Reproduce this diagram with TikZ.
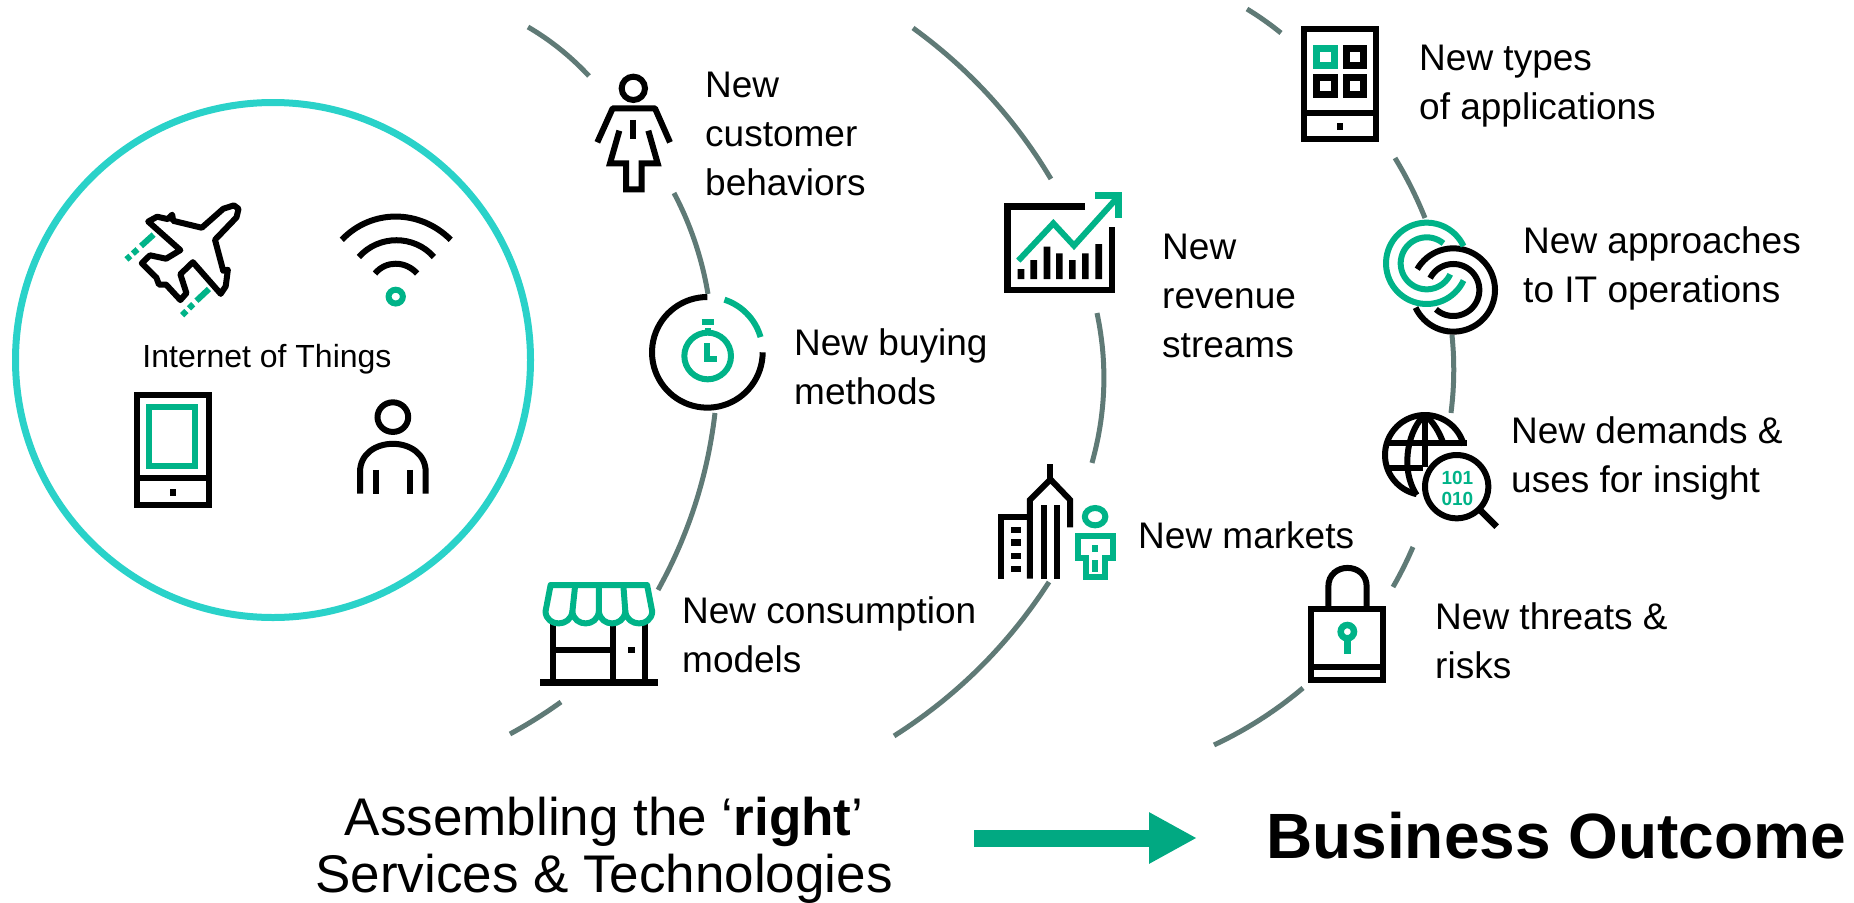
\documentclass[tikz,border=0pt]{standalone}
\usepackage{fontspec}
\setmainfont{Liberation Sans}
\usetikzlibrary{arrows.meta}
\definecolor{igreen}{HTML}{00B388}
\definecolor{agreen}{HTML}{01A982}
\definecolor{turq}{HTML}{2AD2C9}
\definecolor{slate}{HTML}{5F7A76}
\newcommand\zarc[6]{\draw[#1] plot[domain=#5:#6,samples=60] ({#2+#4*cos(\x)},{#3-#4*sin(\x)});}
\newcommand\ringseg[6]{\draw[ring] plot[domain=0:1,samples=30] ({(1-\x)*(1-\x)*#1+2*\x*(1-\x)*#3+\x*\x*#5},{(1-\x)*(1-\x)*#2+2*\x*(1-\x)*#4+\x*\x*#6});}
\tikzset{
  zoneA/.style={shift={(0,90)},x=0.35714pt,y=-0.34435pt},
  zoneB/.style={shift={(520,0)},x=0.33333pt,y=-0.33333pt},
  zoneC/.style={shift={(500,420)},x=0.39541pt,y=-0.33333pt},
  zoneD/.style={shift={(1240,0)},x=0.33333pt,y=-0.33333pt},
  zoneE/.style={shift={(1240,380)},x=0.33333pt,y=-0.33333pt},
  zoneF/.style={shift={(980,170)},x=0.33333pt,y=-0.33333pt},
  ring/.style={draw=slate,line width=5pt},
  ik/.style={draw=black,line width=6pt,line join=miter},
  gk/.style={draw=igreen,line width=6pt,line join=miter},
  lab/.style={inner sep=0pt,anchor=base west,align=left,font=\fontsize{37}{49}\selectfont,text=black},
  digits/.style={inner sep=0pt,align=center,text=igreen,font=\fontsize{19}{21.5}\selectfont\bfseries}
}
\begin{document}
\begin{tikzpicture}[x=1pt,y=-1pt]
\useasboundingbox (0,0) rectangle (1854,902);
% arcs
\ringseg{528}{27}{561.5}{46.5}{589}{76}
\ringseg{674}{193}{699}{240.5}{708}{294}
\ringseg{715}{413}{704}{507}{658}{590}
\ringseg{561}{702}{536.5}{719.6}{510}{734}
\ringseg{913}{28}{997.5}{89.3}{1051}{179}
\ringseg{1097}{313}{1113}{388}{1092}{463}
\ringseg{1049}{582}{988.4}{676}{894}{736}
\ringseg{1247}{9}{1265}{20}{1281}{33}
\ringseg{1395}{158}{1412.5}{186.7}{1425}{218}
\ringseg{1452}{335}{1456}{374}{1451}{413}
\ringseg{1413}{547}{1404}{568}{1393}{587}
\ringseg{1303}{688}{1262.3}{722.4}{1214}{745}
% IoT circle
\node[draw=turq,line width=7pt,circle,minimum size=515pt,inner sep=0pt] (iot) at (273,360) {};
\node[inner sep=0pt,anchor=base,font=\fontsize{32}{36}\selectfont] (iottext) at (267,367) {Internet of Things};
% icons in circle
\begin{scope}[zoneA]
  \draw[ik,line join=round] (655,335) -- (625,345) -- (565,400) -- (485,380) -- (482,362) -- (470,375) -- (440,368) -- (415,382) -- (505,465) -- (465,490) -- (420,480) -- (397,503) -- (438,545) -- (445,565) -- (465,565) -- (505,610) -- (522,590) -- (505,535) -- (540,500) -- (618,592) -- (632,570) -- (638,522) -- (625,525) -- (602,435) -- (662,370) -- (668,345) -- cycle;
  \draw[gk] (430,420) -- (395,453) (385,463) -- (372,475) (365,482) -- (354,492);
  \draw[gk] (585,578) -- (550,612) (541,622) -- (529,634) (522,642) -- (510,654);
  \draw[ik] (957,435) .. controls (1040,345) and (1175,345) .. (1262,435);
  \draw[ik] (1005,485) .. controls (1060,420) and (1160,420) .. (1215,485);
  \draw[ik] (1050,533) .. controls (1080,495) and (1135,495) .. (1168,533);
  \draw[gk] (1108,600) circle (20);
  \draw[ik] (383,885) rectangle (585,1204);
  \draw[ik] (383,1127) -- (585,1127);
  \fill[black] (476,1158) rectangle (493,1178);
  \draw[gk] (418,921) rectangle (547,1092);
  \draw[ik] (1100,950) circle (43);
  \draw[ik] (1008,1172) -- (1008,1110) .. controls (1008,1000) and (1192,1000) .. (1192,1110) -- (1192,1172);
  \draw[ik] (1053,1103) -- (1053,1172) (1147,1103) -- (1147,1172);
\end{scope}
% woman and timer
\begin{scope}[zoneB]
  \draw[ik] (340,265) circle (35);
  \draw[ik,line join=round] (232,427) -- (278,325) -- (405,325) -- (450,427);
  \draw[ik] (340,360) -- (340,417);
  \draw[ik] (298,392) -- (270,490) -- (318,490) -- (318,568) -- (365,568) -- (365,490) -- (413,490) -- (385,392);
  \zarc{ik}{562}{1057}{166}{90}{360}
  \zarc{gk}{562}{1057}{166}{16}{72}
  \draw[gk] (563,1068) circle (70);
  \draw[gk] (562,1030) -- (562,1078) -- (592,1078);
  \draw[gk] (563,985) -- (563,1000);
  \draw[gk] (545,967) -- (583,967);
\end{scope}
% store and buildings
\begin{scope}[zoneC]
  \draw[ik,line width=6.5pt] (102,788) -- (400,788);
  \draw[ik] (135,610) -- (135,785) (285,610) -- (285,785) (367,610) -- (367,785) (135,690) -- (285,690);
  \fill[black] (323,682) rectangle (341,700);
  \draw[gk,line join=round] (128,495) -- (372,495) -- (385,575) .. controls (382,622) and (322,622) .. (317,575) .. controls (312,622) and (255,622) .. (250,575) .. controls (245,622) and (188,622) .. (183,575) .. controls (178,622) and (118,622) .. (115,575) -- cycle;
  \draw[gk] (183,575) -- (190,497) (250,575) -- (250,497) (317,575) -- (312,497);
  \draw[ik] (1392,132) -- (1392,178);
  \draw[ik] (1442,322) -- (1442,240) -- (1392,178) -- (1340,240) -- (1340,476);
  \draw[ik] (1375,255) -- (1375,476) (1408,255) -- (1408,476);
  \draw[ik] (1340,290) -- (1268,290) -- (1268,476);
  \draw[ik,line width=6.5pt] (1293,330) -- (1318,330) (1293,368) -- (1318,368) (1293,408) -- (1318,408) (1293,447) -- (1318,447);
  \draw[gk] (1505,290) circle (26);
  \draw[gk] (1482,415) -- (1462,415) -- (1462,348) -- (1550,348) -- (1550,415) -- (1530,415) -- (1530,470) -- (1482,470) -- cycle;
  \draw[gk] (1505,375) -- (1505,395) (1505,420) -- (1505,455);
\end{scope}
% chart
\begin{scope}[zoneF]
  \draw[ik,line width=6.5pt] (315,110) -- (82,110) -- (82,360) -- (396,360) -- (396,172);
  \fill[black] (113,297) rectangle (133,327) (151,270) rectangle (171,327) (191,230) rectangle (211,327) (228,250) rectangle (248,327) (267,270) rectangle (287,327) (306,250) rectangle (326,327) (346,222) rectangle (366,327);
  \draw[gk,line width=6pt] (115,272) -- (220,160) -- (282,227) -- (410,85);
  \draw[gk,line width=7pt] (345,75) -- (415,75) -- (415,145);
\end{scope}
% apps tablet and links
\begin{scope}[zoneD]
  \draw[ik] (191,87) rectangle (409,418);
  \draw[ik] (191,338) -- (409,338);
  \fill[black] (290,370) rectangle (310,390);
  \draw[gk,line width=7pt] (228,145) rectangle (282,196);
  \draw[ik,line width=7pt] (318,145) rectangle (370,196) (228,233) rectangle (282,284) (318,233) rectangle (370,284);
  \zarc{ik}{640}{870}{125}{205}{510}
  \zarc{ik}{640}{870}{78}{228}{513}
  \zarc{gk}{560}{790}{122}{-25}{-335}
  \zarc{gk}{560}{790}{78}{-25}{-310}
\end{scope}
% globe and lock
\begin{scope}[zoneE]
  \zarc{ik}{555}{225}{120}{14}{258}
  \draw[ik] (440,190) -- (680,190) (440,265) -- (550,265) (555,105) -- (555,260);
  \draw[ik] (555,105) .. controls (510,140) and (475,260) .. (530,345);
  \draw[ik] (555,105) .. controls (580,125) and (600,160) .. (610,190);
  \fill[white] (650,320) circle (95);
  \draw[ik] (650,320) circle (95);
  \draw[ik,line width=6.5pt] (722,392) -- (770,440);
  \node[digits] (bits) at (652,325) {101\\010};
  \draw[ik] (214,687) rectangle (429,899);
  \draw[ik] (214,860) -- (429,860);
  \draw[ik] (265,682) -- (265,620) .. controls (265,545) and (380,545) .. (380,620) -- (380,682);
  \draw[gk,line width=6.5pt] (322,755) circle (20);
  \draw[gk,line width=7pt] (322,775) -- (322,822);
\end{scope}
% labels
\node[lab] (t1) at (705,97) {New};
\node[lab] (t1b) at (705,146) {customer};
\node[lab] (t1c) at (705,195) {behaviors};
\node[lab] (t2) at (794,355) {New buying};
\node[lab] (t2b) at (794,404) {methods};
\node[lab] (t3) at (682,623) {New consumption};
\node[lab] (t3b) at (682,672) {models};
\node[lab] (t4) at (1162,259) {New};
\node[lab] (t4b) at (1162,308) {revenue};
\node[lab] (t4c) at (1162,357) {streams};
\node[lab] (t5) at (1138,548) {New markets};
\node[lab] (t6) at (1419,70) {New types};
\node[lab] (t6b) at (1419,119) {of applications};
\node[lab] (t7) at (1523,253) {New approaches};
\node[lab] (t7b) at (1523,302) {to IT operations};
\node[lab] (t8) at (1511,443) {New demands \&};
\node[lab] (t8b) at (1511,492) {uses for insight};
\node[lab] (t9) at (1435,629) {New threats \&};
\node[lab] (t9b) at (1435,678) {risks};
% bottom
\node[inner sep=0pt,anchor=base,font=\fontsize{53}{58}\selectfont] (as1) at (604,835) {Assembling the ‘\textbf{right}’};
\node[inner sep=0pt,anchor=base,font=\fontsize{53}{58}\selectfont] (as2) at (604,892) {Services \& Technologies};
\node[inner sep=0pt,anchor=base west,font=\fontsize{64}{70}\selectfont\bfseries] (bo) at (1266,858) {Business Outcome};
\coordinate (arrS) at (974,838);
\coordinate (arrT) at (1197,838);
\draw[agreen,line width=17pt,-{Triangle[length=48pt,width=48pt]}] (arrS) -- (arrT);
\end{tikzpicture}
\end{document}
